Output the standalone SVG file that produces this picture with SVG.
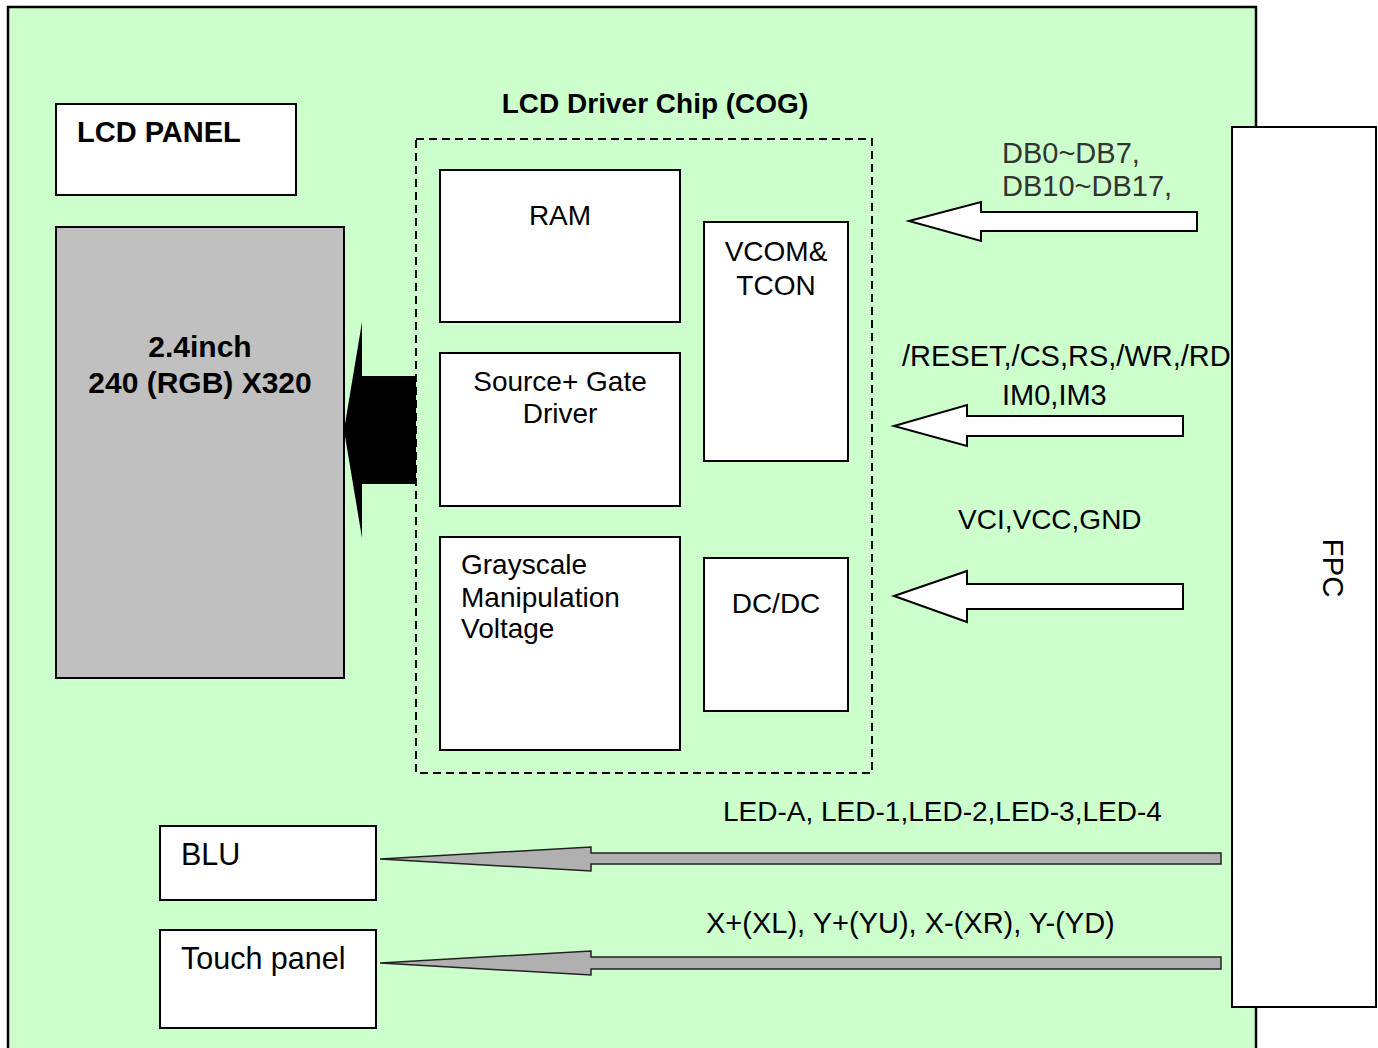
<svg xmlns="http://www.w3.org/2000/svg" width="1378" height="1048" viewBox="0 0 1378 1048">
<style>
text{font-family:"Liberation Sans",Arial,sans-serif;fill:#000}
.box{fill:#fff;stroke:#000;stroke-width:2}
.t{font-size:28px}
.b{font-weight:bold}
.hol{fill:#fff;stroke:#000;stroke-width:2}
.gray{fill:#b0b0b0;stroke:#222;stroke-width:1.5}
</style>
<rect x="0" y="0" width="1378" height="1048" fill="#fff"/>
<g id="board"><rect x="8" y="7" width="1248" height="1050" fill="#ccffcc" stroke="#000" stroke-width="2.5"/></g>
<g id="lcd-panel-label"><rect class="box" x="56" y="104" width="240" height="91"/><text class="b" font-size="29" x="77" y="142">LCD PANEL</text></g>
<g id="panel"><rect x="56" y="227" width="288" height="451" fill="#c0c0c0" stroke="#000" stroke-width="2"/>
<text class="b" font-size="30" x="200" y="357" text-anchor="middle">2.4inch</text>
<text class="b" font-size="30" x="200" y="393" text-anchor="middle">240 (RGB) X320</text></g>
<g id="chip"><rect x="416" y="139" width="456" height="634" fill="none" stroke="#000" stroke-width="2" stroke-dasharray="8,5"/>
<text x="655" y="113" text-anchor="middle" class="b" font-size="28">LCD Driver Chip (COG)</text></g>
<g id="ram"><rect class="box" x="440" y="170" width="240" height="152"/><text class="t" x="560" y="225" text-anchor="middle">RAM</text></g>
<g id="source"><rect class="box" x="440" y="353" width="240" height="153"/><text class="t" x="560" y="391" text-anchor="middle">Source+ Gate</text><text class="t" x="560" y="423" text-anchor="middle">Driver</text></g>
<g id="gray"><rect class="box" x="440" y="537" width="240" height="213"/><text class="t" x="461" y="574">Grayscale</text><text class="t" x="461" y="607">Manipulation</text><text class="t" x="461" y="638">Voltage</text></g>
<g id="vcom"><rect class="box" x="704" y="222" width="144" height="239"/><text class="t" x="776" y="261" text-anchor="middle">VCOM&amp;</text><text class="t" x="776" y="295" text-anchor="middle">TCON</text></g>
<g id="dcdc"><rect class="box" x="704" y="558" width="144" height="153"/><text class="t" x="776" y="613" text-anchor="middle">DC/DC</text></g>
<g id="fpc"><rect class="box" x="1232" y="127" width="144" height="880"/><text font-size="29.5" transform="translate(1323 568) rotate(90)" text-anchor="middle">FPC</text></g>
<g id="blu"><rect class="box" x="160" y="826" width="216" height="74"/><text font-size="30.5" x="181" y="865">BLU</text></g>
<g id="touch"><rect class="box" x="160" y="930" width="216" height="98"/><text font-size="30.5" x="181" y="969">Touch panel</text></g>
<g id="connectors">
<polygon points="344,430 362,322 362,376 416,376 416,484 362,484 362,538" fill="#000"/>
<polygon class="hol" points="909,221 981,202 981,212 1197,212 1197,231 981,231 981,241"/>
<polygon class="hol" points="894,426 967,405 967,416 1183,416 1183,436 967,436 967,446"/>
<polygon class="hol" points="894,596 967,571 967,584 1183,584 1183,609 967,609 967,622"/>
<polygon class="gray" points="380,859 591,847 591,853 1221,853 1221,864 591,864 591,871"/>
<polygon class="gray" points="380,963 591,951 591,957 1221,957 1221,969 591,969 591,975"/>
<text font-size="29" x="1002" y="163" style="fill:#333">DB0~DB7,</text>
<text font-size="29" x="1002" y="196" style="fill:#333">DB10~DB17,</text>
<text font-size="29" x="902" y="366">/RESET,/CS,RS,/WR,/RD</text>
<text font-size="29" x="1002" y="405">IM0,IM3</text>
<text class="t" x="958" y="529">VCI,VCC,GND</text>
<text class="t" x="723" y="821">LED-A, LED-1,LED-2,LED-3,LED-4</text>
<text font-size="29" x="706" y="933">X+(XL), Y+(YU), X-(XR), Y-(YD)</text>
</g>
</svg>
